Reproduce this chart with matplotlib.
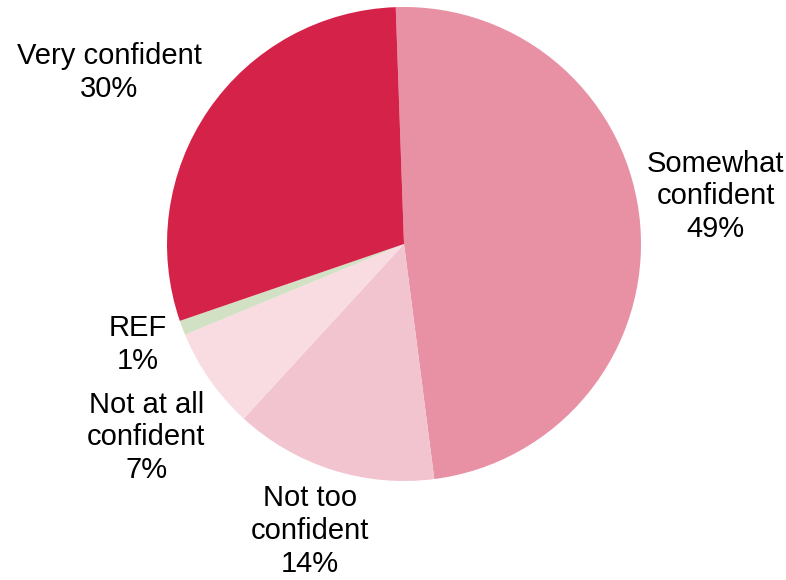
import numpy as np
import matplotlib.pyplot as plt

plt.rcParams['font.family'] = ['Liberation Sans', 'DejaVu Sans']

# survey answers, clockwise from the top
labels = ['Somewhat\nconfident', 'Not too\nconfident', 'Not at all\nconfident', 'REF', 'Very confident']
shares = [49, 14, 7, 1, 30]
colors = ['#E891A5', '#F2C4CF', '#F8DCE2', '#D2E0C3', '#D42248']

# label placement: distance from centre (in radii) and angle nudge (deg)
label_dist = [1.33, 1.275, 1.36, 1.20, 1.44]
label_nudge = [4.0, -0.5, 1.9, 0.0, 4.3]

W, H = 786, 580
cx, cy, R = 404, H - 244, 237

fig = plt.figure(figsize=(W / 100, H / 100), dpi=100)
ax = fig.add_axes([0, 0, 1, 1])

wedges, _ = ax.pie(shares, colors=colors, startangle=92, counterclock=False,
                   center=(cx, cy), radius=R, frame=True,
                   wedgeprops=dict(linewidth=0))

for w, lab, val, d, nudge in zip(wedges, labels, shares, label_dist, label_nudge):
    mid = np.deg2rad((w.theta1 + w.theta2) / 2 + nudge)
    x = cx + d * R * np.cos(mid)
    y = cy + d * R * np.sin(mid)
    ax.text(x, y, f'{lab}\n{val}%', ha='center', va='center',
            fontsize=21, linespacing=1.22, color='black')

ax.set_xlim(0, W)
ax.set_ylim(0, H)
ax.set_aspect('equal')
ax.axis('off')

fig.savefig('out.png', dpi=100)
